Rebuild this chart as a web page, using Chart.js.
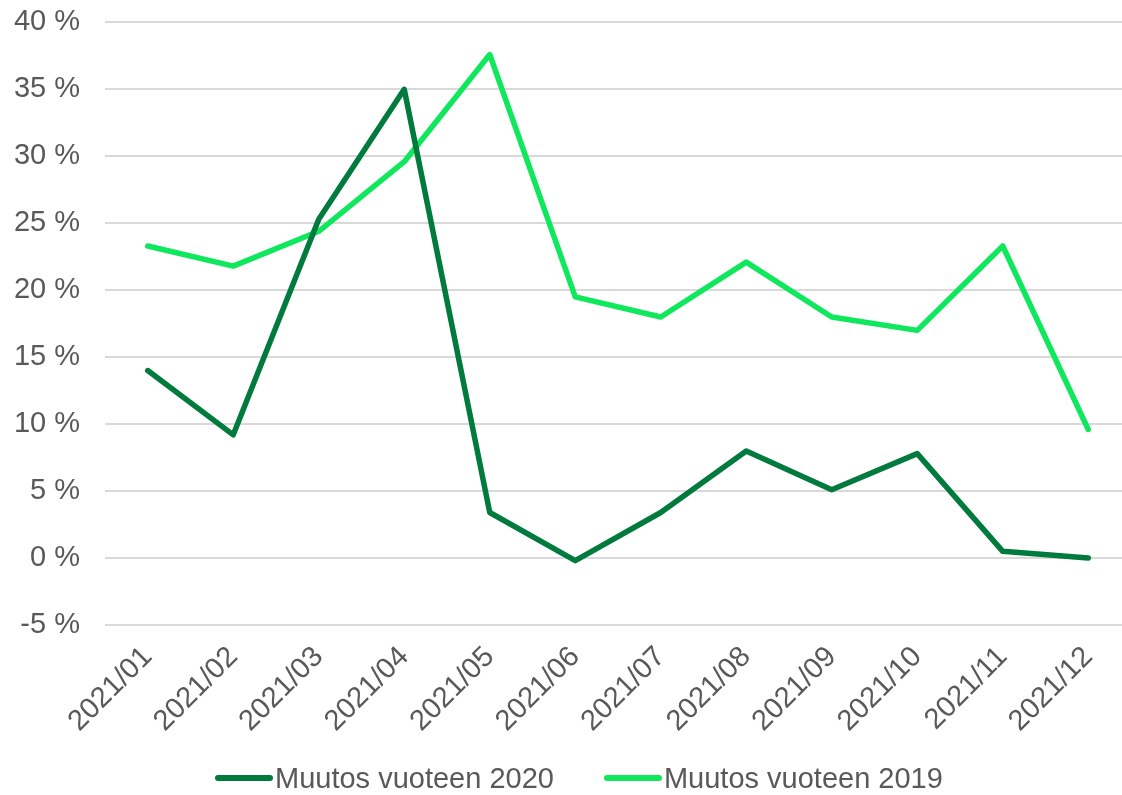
<!DOCTYPE html>
<html>
<head>
<meta charset="utf-8">
<script src="https://cdn.jsdelivr.net/npm/chart.js@4"></script>
<style>
  html, body { margin: 0; padding: 0; background: #fff; overflow: hidden; width: 1122px; height: 795px; position: relative; }
  #wrap { position: absolute; left: 0; top: -20px; width: 1131px; height: 815px; }
  #legend {
    position: absolute; left: 215px; top: 760px; height: 36px;
    display: flex; align-items: center; gap: 50px;
    font-family: 'Liberation Sans', Arial, sans-serif; font-size: 29px; color: #595959;
  }
  #legend .item { display: flex; align-items: center; }
  #legend .swatch { width: 58px; height: 6px; border-radius: 3px; margin-right: 2px; }
</style>
</head>
<body>
<div id="wrap"><canvas id="chart"></canvas></div>
<div id="legend"></div>
<script>
// months on the x axis
const months = ["2021/01", "2021/02", "2021/03", "2021/04", "2021/05", "2021/06",
                "2021/07", "2021/08", "2021/09", "2021/10", "2021/11", "2021/12"];

// percent change vs. 2020 and 2019
const change2020 = [14.0, 9.2, 25.3, 35.0, 3.4, -0.2, 3.4, 8.0, 5.1, 7.8, 0.5, 0.0];
const change2019 = [23.3, 21.8, 24.4, 29.6, 37.6, 19.5, 18.0, 22.1, 18.0, 17.0, 23.3, 9.6];

const yMin = -5;
const yMax = 40;
const yStep = 5;

const textColor = "#595959";
const font = { family: "'Liberation Sans', Arial, sans-serif", size: 29 };

const ctx = document.getElementById("chart").getContext("2d");
const chart = new Chart(ctx, {
    type: "line",
    data: {
        labels: months,
        datasets: [
            {
                label: "Muutos vuoteen 2020",
                data: change2020,
                borderColor: "#007A3D",
                backgroundColor: "#007A3D",
                borderWidth: 5.5,
                borderCapStyle: "round",
                borderJoinStyle: "round",
                pointRadius: 0,
                tension: 0
            },
            {
                label: "Muutos vuoteen 2019",
                data: change2019,
                borderColor: "#0FE85C",
                backgroundColor: "#0FE85C",
                borderWidth: 5.5,
                borderCapStyle: "round",
                borderJoinStyle: "round",
                pointRadius: 0,
                tension: 0
            }
        ]
    },
    options: {
        responsive: true,
        maintainAspectRatio: false,
        animation: false,
        layout: { padding: { top: 2, left: 0, right: 0, bottom: 40 } },
        plugins: {
            tooltip: { enabled: false },
            legend: { display: false }
        },
        scales: {
            x: {
                offset: true,
                grid: { display: false },
                border: { display: false },
                ticks: {
                    color: textColor,
                    font: font,
                    maxRotation: 45,
                    minRotation: 45,
                    autoSkip: false,
                    padding: 7
                },
                afterFit: function (scale) { scale.height = 130; }
            },
            y: {
                min: yMin,
                max: yMax,
                grid: { color: "#D9D9D9", lineWidth: 2, drawTicks: false },
                border: { display: false },
                ticks: {
                    stepSize: yStep,
                    color: textColor,
                    font: font,
                    padding: 25,
                    callback: function (v) { return v + " %"; }
                },
                afterFit: function (scale) { scale.width = 105; }
            }
        }
    }
});

// legend below the chart
const legend = document.getElementById("legend");
chart.data.datasets.forEach(function (ds) {
    const item = document.createElement("div");
    item.className = "item";
    const swatch = document.createElement("span");
    swatch.className = "swatch";
    swatch.style.background = ds.borderColor;
    const label = document.createElement("span");
    label.textContent = ds.label;
    item.appendChild(swatch);
    item.appendChild(label);
    legend.appendChild(item);
});
</script>
</body>
</html>
